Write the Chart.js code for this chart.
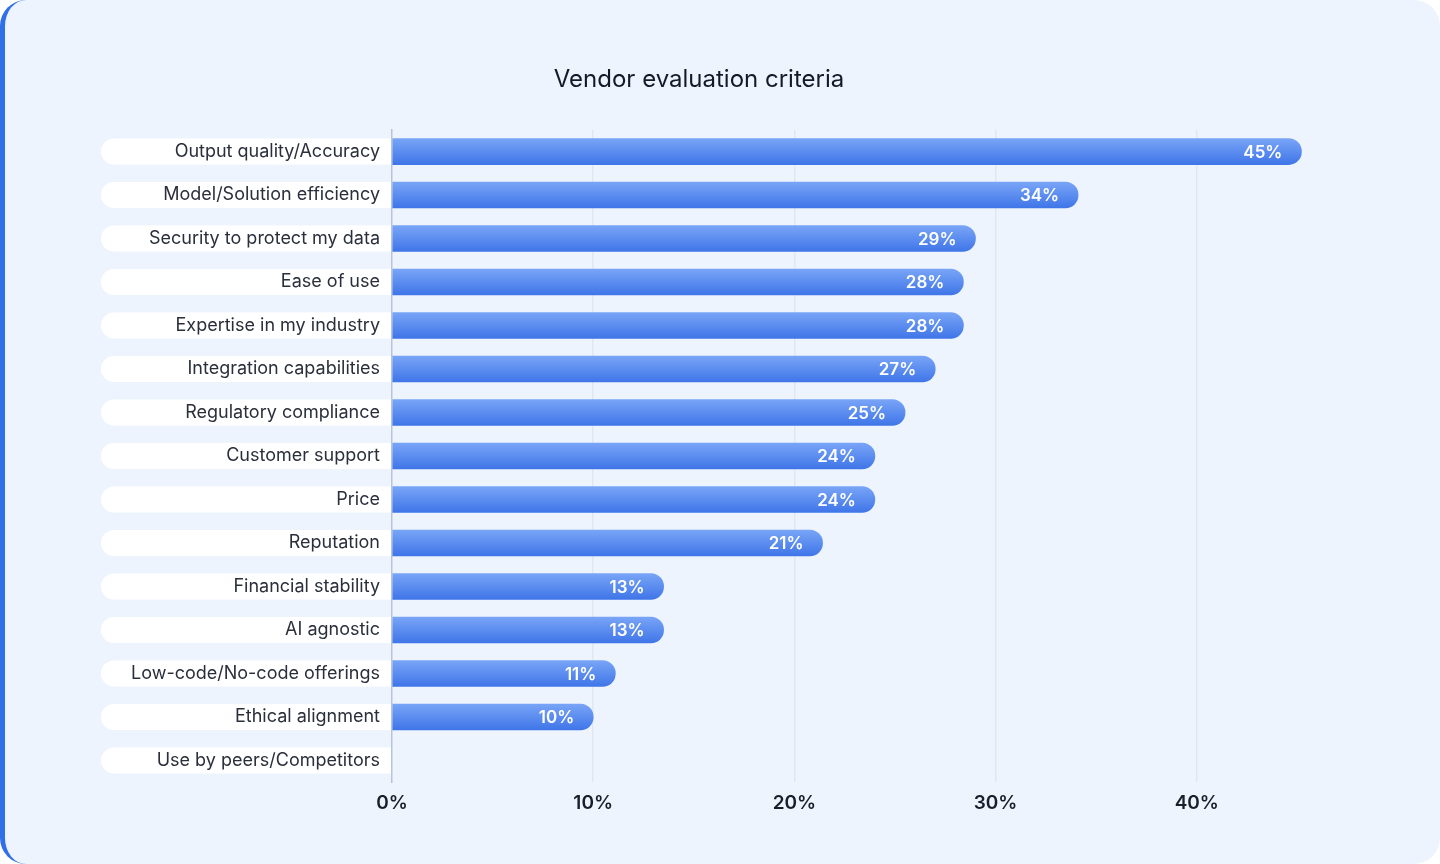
<!DOCTYPE html>
<html>
<head>
<meta charset="utf-8">
<script src="https://cdn.jsdelivr.net/npm/chart.js@4.4.1/dist/chart.umd.min.js"></script>
<style>
  html, body { margin: 0; padding: 0; background: #ffffff; }
  #card { position: absolute; left: 0; top: 0; width: 1440px; height: 864px; box-sizing: border-box;
          background: #EEF4FE; border-left: 5px solid #2F6FE8; border-radius: 26px; }
  #wrap { position: absolute; left: 0; top: 0; width: 1440px; height: 864px; }
</style>
</head>
<body>
<div id="card"></div>
<div id="wrap"><canvas id="c" width="1440" height="864"></canvas></div>
<script>
const chartTitle = "Vendor evaluation criteria";
const categories = [
  "Output quality/Accuracy",
  "Model/Solution efficiency",
  "Security to protect my data",
  "Ease of use",
  "Expertise in my industry",
  "Integration capabilities",
  "Regulatory compliance",
  "Customer support",
  "Price",
  "Reputation",
  "Financial stability",
  "AI agnostic",
  "Low-code/No-code offerings",
  "Ethical alignment",
  "Use by peers/Competitors"
];
// bar lengths (percent)
const values = [45.2, 34.1, 29.0, 28.4, 28.4, 27.0, 25.5, 24.0, 24.0, 21.4, 13.5, 13.5, 11.1, 10.0, 0];
// value labels as printed on the bars
const valueLabels = ["45%", "34%", "29%", "28%", "28%", "27%", "25%", "24%", "24%", "21%", "13%", "13%", "11%", "10%", ""];
const xTicks = [0, 10, 20, 30, 40, 50];

const FONT = "Inter, 'Noto Sans', sans-serif";
const BAR_H = 26;

const pillPlugin = {
  id: 'pills',
  beforeDraw(chart) {
    const ctx = chart.ctx;
    const ys = chart.scales.y;
    const right = chart.chartArea.left;
    const left = 101;
    ctx.save();
    ctx.fillStyle = '#FFFFFF';
    categories.forEach((c, i) => {
      const y = ys.getPixelForValue(i);
      const t = y - BAR_H / 2, r = BAR_H / 2;
      ctx.beginPath();
      ctx.moveTo(right, t);
      ctx.lineTo(left + r, t);
      ctx.arc(left + r, y, r, -Math.PI / 2, Math.PI / 2, true);
      ctx.lineTo(right, t + BAR_H);
      ctx.closePath();
      ctx.fill();
    });
    ctx.restore();
  },
  afterDatasetsDraw(chart) {
    const ctx = chart.ctx;
    const meta = chart.getDatasetMeta(0);
    ctx.save();
    ctx.fillStyle = '#FFFFFF';
    ctx.font = "600 17px " + FONT;
    ctx.textAlign = 'right';
    ctx.textBaseline = 'middle';
    meta.data.forEach((bar, i) => {
      if (!valueLabels[i]) return;
      ctx.fillText(valueLabels[i], bar.x - 19, bar.y + 1);
    });
    ctx.restore();
  }
};

new Chart(document.getElementById('c'), {
  type: 'bar',
  data: {
    labels: categories,
    datasets: [{
      data: values,
      barThickness: BAR_H,
      borderRadius: BAR_H / 2,
      borderSkipped: 'start',
      backgroundColor: (context) => {
        const chart = context.chart;
        const { ctx, chartArea, scales } = chart;
        if (!chartArea || context.dataIndex === undefined) return '#4A7FEA';
        if (!values[context.dataIndex]) return 'rgba(0,0,0,0)';
        const y = scales.y.getPixelForValue(context.dataIndex);
        const g = ctx.createLinearGradient(0, y - BAR_H / 2, 0, y + BAR_H / 2);
        g.addColorStop(0, '#79A5F7');
        g.addColorStop(1, '#3F75E8');
        return g;
      }
    }]
  },
  options: {
    indexAxis: 'y',
    responsive: false,
    animation: false,
    events: [],
    layout: { padding: { left: 0, right: 42, top: 0, bottom: 39 } },
    plugins: {
      legend: { display: false },
      tooltip: { enabled: false },
      title: {
        display: true,
        text: chartTitle,
        color: '#141927',
        font: { family: FONT, size: 24, weight: '400' },
        padding: { top: 65, bottom: 36 }
      }
    },
    scales: {
      x: {
        min: 0, max: 50,
        afterBuildTicks: (scale) => { scale.ticks = xTicks.map(v => ({ value: v })); },
        border: { display: false },
        grid: {
          drawTicks: false,
          color: (c) => (c.tick && (c.tick.value === 50 || c.tick.value === 0)) ? 'rgba(0,0,0,0)' : '#E0E7F2',
          lineWidth: 1.5
        },
        ticks: {
          padding: 10,
          color: '#1A1E2A',
          font: { family: FONT, size: 19, weight: '600' },
          callback: (v) => v === 50 ? '' : v + '%'
        }
      },
      y: {
        afterFit: (scale) => { scale.width = 392; },
        border: { display: true, color: '#B8C4D8', width: 1.5 },
        grid: { display: false, drawTicks: false },
        ticks: {
          padding: 12,
          color: '#2A2F3B',
          font: { family: FONT, size: 18, weight: '400' }
        }
      }
    }
  },
  plugins: [pillPlugin]
});
</script>
</body>
</html>
